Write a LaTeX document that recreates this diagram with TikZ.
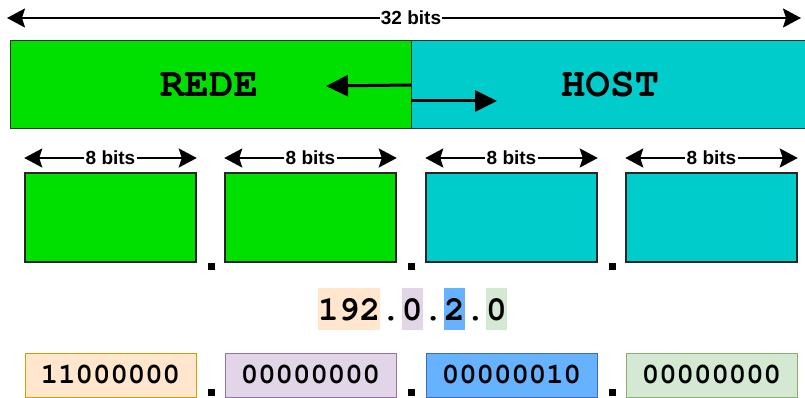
\documentclass[tikz,border=0pt]{standalone}
\usepackage{fontspec}
\setmainfont{Liberation Sans}
\newcommand{\courb}{\usefont{T1}{pcr}{b}{n}}
\usetikzlibrary{arrows.meta}
\definecolor{bargreen}{RGB}{0,224,0}
\definecolor{barcyan}{RGB}{0,204,204}
\definecolor{orfill}{HTML}{FFE6CC}
\definecolor{ordraw}{HTML}{D79B00}
\definecolor{pufill}{HTML}{E1D5E7}
\definecolor{pudraw}{HTML}{9673A6}
\definecolor{blfill}{HTML}{66B2FF}
\definecolor{bldraw}{HTML}{3D6FA8}
\definecolor{grfill}{HTML}{D5E8D4}
\definecolor{grdraw}{HTML}{82B366}
\tikzset{
  lbl/.style={font=\bfseries\fontsize{19}{19}\selectfont, fill=white, inner xsep=1pt, inner ysep=0pt},
  dimarrow/.style={line width=2.4pt, -{Stealth[length=18pt,width=19pt,inset=3pt]}},
  inarrow/.style={line width=3pt, -{Triangle[length=22pt,width=21pt]}},
  bar/.style={draw=black!80, line width=1pt, minimum height=88, inner sep=0pt},
  barlbl/.style={font=\courb\fontsize{41}{41}\selectfont, inner sep=0pt},
  octbox/.style={draw=black!85, line width=1.5pt, minimum width=171, minimum height=89, inner sep=0pt},
  sep/.style={fill=black, minimum size=7, inner sep=0pt},
  ippart/.style={font=\courb\fontsize{34.5}{34.5}\selectfont, inner sep=0pt, minimum height=42,
    text height=22, text depth=0, anchor=west},
  binbox/.style={line width=1pt, minimum width=171, minimum height=44, inner sep=0pt,
    text height=17, text depth=0, font=\courb\fontsize{29}{29}\selectfont},
}
\begin{document}
\begin{tikzpicture}[x=1pt,y=-1pt]
\useasboundingbox (0,0) rectangle (805,398);
% top dimension
\node[lbl] (t32) at (411,18) {32 bits};
\coordinate (tl) at (7,18);
\coordinate (tr) at (801,18);
\draw[dimarrow] (t32) -- (tl);
\draw[dimarrow] (t32) -- (tr);
% big bar
\node[bar, fill=bargreen, minimum width=401] (rede) at (210.5,85) {};
\node[bar, fill=barcyan, minimum width=396] (host) at (609,85) {};
\draw[black!80, line width=1pt] (rede.north east) -- (rede.south east);
\node[barlbl] (redelbl) at (209,85) {REDE};
\node[barlbl] (hostlbl) at (610,85) {HOST};
\coordinate (m1) at (411,85);
\coordinate (m2) at (411,101);
\coordinate (a1) at (326,86);
\coordinate (a2) at (497,101);
\draw[inarrow] (m1) -- (a1);
\draw[inarrow] (m2) -- (a2);
% octet boxes
\foreach \i/\x/\c in {1/110.5/bargreen, 2/310.5/bargreen, 3/511.5/barcyan, 4/711.5/barcyan}{
  \node[octbox, fill=\c] (b\i) at (\x,217.5) {};
  \node[lbl] (l\i) at (\x,158) {8 bits};
  \draw[dimarrow] (l\i) -- (l\i -| b\i.west);
  \draw[dimarrow] (l\i) -- (l\i -| b\i.east);
}
\node[sep] (s1) at (211,266) {};
\node[sep] (s2) at (411,266) {};
\node[sep] (s3) at (612,266) {};
% dotted decimal
\node[ippart, fill=orfill] (p1) at (318,309) {192};
\node[ippart] (d1) at (p1.east) {.};
\node[ippart, fill=pufill] (p2) at (d1.east) {0};
\node[ippart] (d2) at (p2.east) {.};
\node[ippart, fill=blfill] (p3) at (d2.east) {2};
\node[ippart] (d3) at (p3.east) {.};
\node[ippart, fill=grfill] (p4) at (d3.east) {0};
% binary boxes
\node[binbox, draw=ordraw, fill=orfill] (c1) at (110.5,375) {11000000};
\node[binbox, draw=pudraw, fill=pufill] (c2) at (310.5,375) {00000000};
\node[binbox, draw=bldraw, fill=blfill] (c3) at (511.5,375) {00000010};
\node[binbox, draw=grdraw, fill=grfill] (c4) at (711.5,375) {00000000};
\node[sep] (t1) at (211,392) {};
\node[sep] (t2) at (411,392) {};
\node[sep] (t3) at (612,392) {};
\end{tikzpicture}
\end{document}
